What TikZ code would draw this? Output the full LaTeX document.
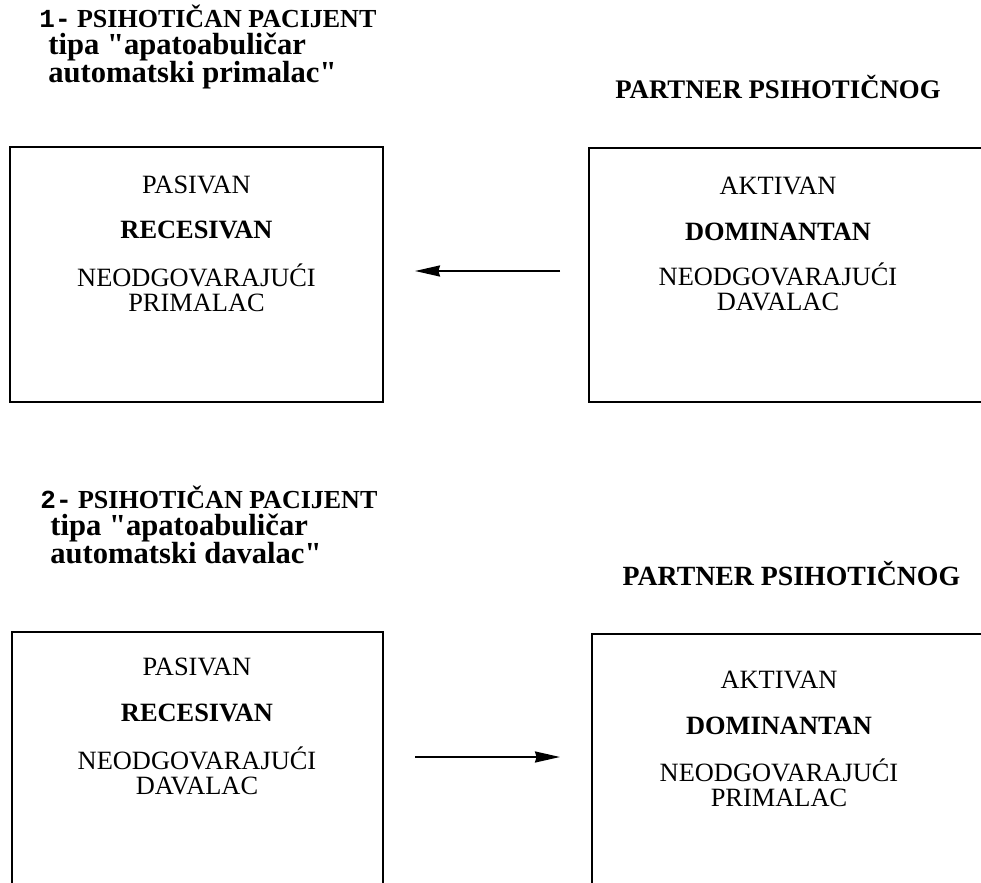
\documentclass[tikz,border=0pt]{standalone}
\usepackage{fontspec}
\setmainfont{Liberation Serif}
\setmonofont{Liberation Mono}
% serif family without TeX ligatures, so " stays a straight quote
\newfontfamily\hserif{Liberation Serif}
\usetikzlibrary{arrows.meta}
% let tight heading lines keep their fixed baseline distance
\setlength{\lineskiplimit}{-20pt}
\newcommand{\firstline}[1]{{\fontsize{13}{13.5}\selectfont #1}}
\begin{document}
\begin{tikzpicture}[x=0.5pt,y=-0.5pt,
  box/.style={draw, line width=1pt, anchor=north west, inner sep=0pt, outer sep=0pt},
  lbl/.style={font=\fontsize{13.2}{12.5}\selectfont, inner sep=0pt, anchor=base, align=center},
  blbl/.style={lbl, font=\fontsize{13.2}{12.5}\selectfont\bfseries},
  head/.style={font=\hserif\fontsize{15.3}{13.5}\selectfont\bfseries,
               inner sep=0pt, anchor=base west, align=left},
  ptitle/.style={font=\hserif\fontsize{#1}{15}\selectfont\bfseries, inner sep=0pt, anchor=base},
  arr/.style={line width=1pt, -{Stealth[length=12.5pt,width=5.5pt,inset=0.8pt]}}]
\useasboundingbox (0,0) rectangle (981,883);
\clip (0,0) rectangle (981,883);

% ---------- case 1 ----------
% multi-line nodes are placed by the baseline of their last line
\node[head] (h1) at (39,83)
  {\firstline{{\ttfamily 1-} PSIHOTIČAN PACIJENT}\\
   \hspace*{4.5pt}tipa "apatoabuličar\\[0.5pt]
   \hspace*{4.5pt}automatski primalac"};
\node[ptitle=13.4] (p1) at (778,99) {PARTNER PSIHOTIČNOG};

\node[box, minimum width=186.5pt, minimum height=127.5pt] (lb1) at (10,147) {};
\node[box, minimum width=210pt, minimum height=127pt] (rb1) at (589,148) {};

\node[lbl]  (l1a) at (196.5,193) {PASIVAN};
\node[blbl] (l1b) at (196.5,239) {RECESIVAN};
\node[lbl]  (l1c) at (196.5,311) {NEODGOVARAJUĆI\\PRIMALAC};

\node[lbl]  (r1a) at (778,195) {AKTIVAN};
\node[blbl] (r1b) at (778,241) {DOMINANTAN};
\node[lbl]  (r1c) at (778,310) {NEODGOVARAJUĆI\\DAVALAC};

\coordinate (a1) at (0,271);
\draw[arr, shorten <=14.5pt, shorten >=16pt] (rb1.west |- a1) -- (lb1.east |- a1);

% ---------- case 2 ----------
\node[head] (h2) at (40,563)
  {\firstline{{\ttfamily 2-} PSIHOTIČAN PACIJENT}\\
   \hspace*{5pt}tipa "apatoabuličar\\[0.5pt]
   \hspace*{5pt}automatski davalac"};
\node[ptitle=13.9] (p2) at (791.5,585) {PARTNER PSIHOTIČNOG};

\node[box, minimum width=185.5pt, minimum height=150pt] (lb2) at (12,632) {};
\node[box, minimum width=210pt, minimum height=150pt] (rb2) at (592,634) {};

\node[lbl]  (l2a) at (197,675) {PASIVAN};
\node[blbl] (l2b) at (197,721) {RECESIVAN};
\node[lbl]  (l2c) at (197,794) {NEODGOVARAJUĆI\\DAVALAC};

\node[lbl]  (r2a) at (779,688) {AKTIVAN};
\node[blbl] (r2b) at (779,734) {DOMINANTAN};
\node[lbl]  (r2c) at (779,806) {NEODGOVARAJUĆI\\PRIMALAC};

\coordinate (a2) at (0,757);
\draw[arr, shorten <=16pt, shorten >=16pt] (lb2.east |- a2) -- (rb2.west |- a2);
\end{tikzpicture}
\end{document}
